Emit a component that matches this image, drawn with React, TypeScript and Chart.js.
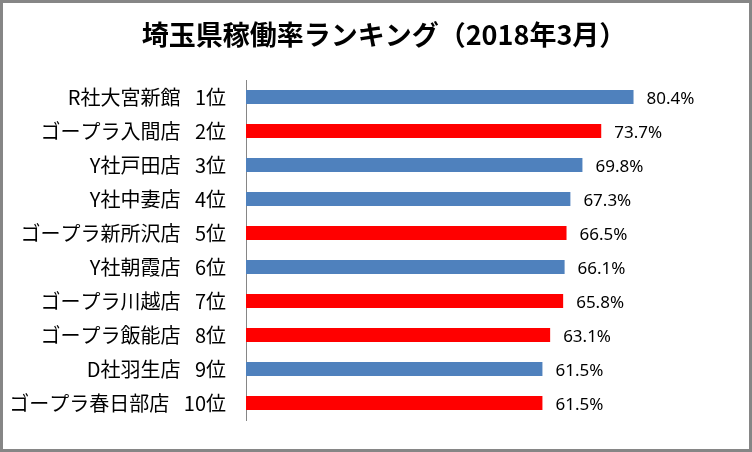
import React, { useEffect, useRef } from "react";
import { Chart, registerables } from "chart.js";

Chart.register(...registerables);

const TITLE = "埼玉県稼働率ランキング（2018年3月）";
const GAP = "\u2002 ";
const storeNames = [
  "R社大宮新館",
  "ゴープラ入間店",
  "Y社戸田店",
  "Y社中妻店",
  "ゴープラ新所沢店",
  "Y社朝霞店",
  "ゴープラ川越店",
  "ゴープラ飯能店",
  "D社羽生店",
  "ゴープラ春日部店",
];
const ranks = ["1位", "2位", "3位", "4位", "5位", "6位", "7位", "8位", "9位", "10位"];
const rates = [80.4, 73.7, 69.8, 67.3, 66.5, 66.1, 65.8, 63.1, 61.5, 61.5];
const BLUE = "#4F81BD";
const RED = "#FF0000";
const barColors = [BLUE, RED, BLUE, BLUE, RED, BLUE, RED, RED, BLUE, RED];
const X_MIN = 0;
const X_MAX = 100;

const storeLabels = storeNames.map((n, i) => n + GAP + ranks[i]);

const framePlugin = {
  id: "frame",
  afterDraw(chart: any) {
    const ctx = chart.ctx;
    ctx.save();
    ctx.strokeStyle = "#868686";
    ctx.lineWidth = 3;
    ctx.strokeRect(1.5, 1.5, chart.width - 3, chart.height - 3);
    ctx.restore();
  },
};

const titlePlugin = {
  id: "centerTitle",
  afterDraw(chart: any) {
    const ctx = chart.ctx;
    ctx.save();
    ctx.font = "bold 27px 'Noto Sans CJK JP', sans-serif";
    ctx.fillStyle = "#000";
    ctx.textAlign = "center";
    ctx.textBaseline = "middle";
    ctx.fillText(TITLE, chart.width / 2 + 8, 35);
    ctx.restore();
  },
};

const valueLabelPlugin = {
  id: "valueLabels",
  afterDatasetsDraw(chart: any) {
    const ctx = chart.ctx;
    const meta = chart.getDatasetMeta(0);
    const data = chart.data.datasets[0].data as number[];
    ctx.save();
    ctx.font = "17px 'Noto Sans', sans-serif";
    ctx.fillStyle = "#000";
    ctx.textAlign = "left";
    ctx.textBaseline = "middle";
    meta.data.forEach((bar: any, i: number) => {
      ctx.fillText(data[i].toFixed(1) + "%", bar.x + 13, bar.y + 2);
    });
    ctx.restore();
  },
};

export default function App() {
  const ref = useRef<HTMLCanvasElement>(null);
  useEffect(() => {
    document.body.style.margin = "0";
    const chart = new Chart(ref.current!, {
      type: "bar",
      data: {
        labels: storeLabels,
        datasets: [
          {
            data: rates,
            backgroundColor: barColors,
            borderWidth: 0,
            barPercentage: 1,
            categoryPercentage: 0.415,
          },
        ],
      },
      options: {
        indexAxis: "y",
        responsive: false,
        animation: false,
        layout: { padding: { left: 0, right: 24, top: 80, bottom: 23 } },
        plugins: {
          legend: { display: false },
          tooltip: { enabled: false },
          title: { display: false },
        },
        scales: {
          x: { display: false, min: X_MIN, max: X_MAX },
          y: {
            afterFit(scale: any) {
              scale.width = 246;
            },
            grid: { display: true, color: "transparent", drawTicks: false },
            border: { display: true, color: "#868686", width: 1 },
            ticks: {
              padding: 20,
              color: "#000",
              font: { family: "'Noto Sans CJK JP', sans-serif", size: 20 },
            },
          },
        },
      },
      plugins: [valueLabelPlugin, titlePlugin, framePlugin],
    });
    return () => chart.destroy();
  }, []);
  return (
    <div style={{ width: 752, height: 452, background: "#fff" }}>
      <canvas ref={ref} width={752} height={452} />
    </div>
  );
}
